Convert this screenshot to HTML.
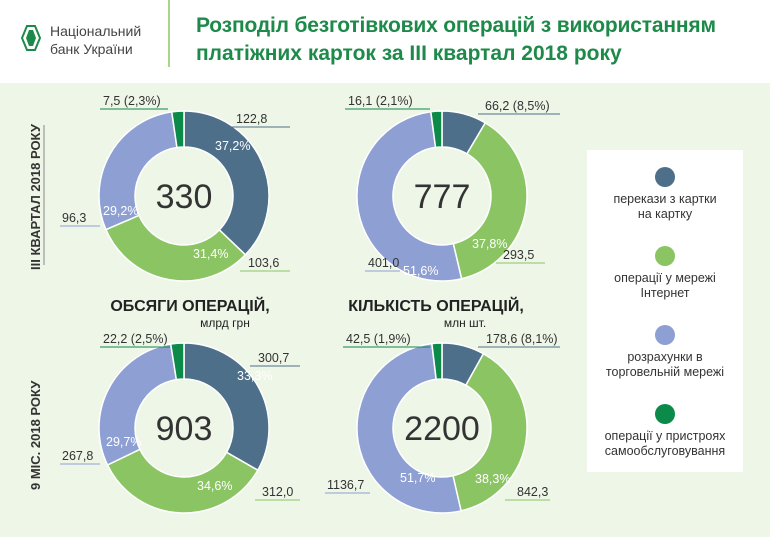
<!DOCTYPE html>
<html><head><meta charset="utf-8"><style>
body{margin:0;width:770px;height:544px;background:#fff;font-family:"Liberation Sans",sans-serif;overflow:hidden}
</style></head><body>
<svg id="s" width="770" height="544" xmlns="http://www.w3.org/2000/svg" font-family="Liberation Sans, sans-serif">
<rect x="0" y="83" width="770" height="454" fill="#eef6e7"/>
<rect x="587" y="150" width="156" height="322" fill="#fff"/>
<line x1="169" y1="0" x2="169" y2="67" stroke="#8cc563" stroke-width="1.5"/>
<path d="M27 26 L35 26 L40 38 L35 50 L27 50 L22 38 Z" fill="none" stroke="#1e8a4a" stroke-width="2"/>
<path d="M29 30 L33 30 L36 38 L33 46 L29 46 L26 38 Z" fill="#1e8a4a"/>
<text x="50" y="36" font-size="14" fill="#444">Національний</text>
<text x="50" y="54" font-size="14" fill="#444">банк України</text>
<text x="196" y="32" font-size="21" fill="#1e8a4a" font-weight="bold" textLength="520">Розподіл безготівкових операцій з використанням</text>
<text x="196" y="60" font-size="21" fill="#1e8a4a" font-weight="bold">платіжних карток за ІІІ квартал 2018 року</text>
<line x1="44" y1="125" x2="44" y2="265" stroke="#888" stroke-width="1"/>
<text transform="translate(40,270) rotate(-90)" font-size="13" font-weight="bold" fill="#333">ІІІ КВАРТАЛ 2018 РОКУ</text>
<text transform="translate(40,490) rotate(-90)" font-size="13" font-weight="bold" fill="#333">9 МІС. 2018 РОКУ</text>
<text x="190" y="311" font-size="16" font-weight="bold" fill="#222" text-anchor="middle">ОБСЯГИ ОПЕРАЦІЙ,</text>
<text x="225" y="327" font-size="12" fill="#222" text-anchor="middle">млрд грн</text>
<text x="436" y="311" font-size="16" font-weight="bold" fill="#222" text-anchor="middle">КІЛЬКІСТЬ ОПЕРАЦІЙ,</text>
<text x="465" y="327" font-size="12" fill="#222" text-anchor="middle">млн шт.</text>
<g id="d"></g>
<g font-size="12.5" fill="#333" text-anchor="middle">
<circle cx="665" cy="177" r="10" fill="#4e6f8a"/><text x="665" y="203">перекази з картки</text><text x="665" y="218">на картку</text>
<circle cx="665" cy="256" r="10" fill="#8bc463"/><text x="665" y="282">операції у мережі</text><text x="665" y="297">Інтернет</text>
<circle cx="665" cy="335" r="10" fill="#8e9fd3"/><text x="665" y="361">розрахунки в</text><text x="665" y="376">торговельній мережі</text>
<circle cx="665" cy="414" r="10" fill="#0c8a4a"/><text x="665" y="440">операції у пристроях</text><text x="665" y="455">самообслуговування</text>
</g>
<g font-size="12.5" fill="#333">
<text x="103" y="105">7,5 (2,3%)</text><line x1="100" y1="109" x2="168" y2="109" stroke="#0c8a4a"/>
<text x="236" y="123">122,8</text><line x1="228" y1="127" x2="290" y2="127" stroke="#4e6f8a"/>
<text x="248" y="267">103,6</text><line x1="240" y1="271" x2="290" y2="271" stroke="#8bc463"/>
<text x="62" y="222">96,3</text><line x1="60" y1="226" x2="100" y2="226" stroke="#8e9fd3"/>
<text x="348" y="105">16,1 (2,1%)</text><line x1="345" y1="109" x2="430" y2="109" stroke="#0c8a4a"/>
<text x="485" y="110">66,2 (8,5%)</text><line x1="478" y1="114" x2="560" y2="114" stroke="#4e6f8a"/>
<text x="503" y="259">293,5</text><line x1="496" y1="263" x2="545" y2="263" stroke="#8bc463"/>
<text x="368" y="267">401,0</text><line x1="365" y1="271" x2="400" y2="271" stroke="#8e9fd3"/>
<text x="103" y="343">22,2 (2,5%)</text><line x1="100" y1="347" x2="170" y2="347" stroke="#0c8a4a"/>
<text x="258" y="362">300,7</text><line x1="250" y1="366" x2="300" y2="366" stroke="#4e6f8a"/>
<text x="262" y="496">312,0</text><line x1="255" y1="500" x2="300" y2="500" stroke="#8bc463"/>
<text x="62" y="460">267,8</text><line x1="60" y1="464" x2="100" y2="464" stroke="#8e9fd3"/>
<text x="346" y="343">42,5 (1,9%)</text><line x1="343" y1="347" x2="430" y2="347" stroke="#0c8a4a"/>
<text x="486" y="343">178,6 (8,1%)</text><line x1="478" y1="347" x2="560" y2="347" stroke="#4e6f8a"/>
<text x="517" y="496">842,3</text><line x1="505" y1="500" x2="550" y2="500" stroke="#8bc463"/>
<text x="327" y="489">1136,7</text><line x1="325" y1="493" x2="370" y2="493" stroke="#8e9fd3"/>
</g>
<g font-size="12.5" fill="#fff">
<text x="215" y="150">37,2%</text><text x="193" y="258">31,4%</text><text x="103" y="215">29,2%</text>
<text x="472" y="248">37,8%</text><text x="403" y="275">51,6%</text>
<text x="237" y="380">33,3%</text><text x="197" y="490">34,6%</text><text x="106" y="446">29,7%</text>
<text x="475" y="483">38,3%</text><text x="400" y="482">51,7%</text>
</g>
</svg>
<script>
var C=["#4e6f8a","#8bc463","#8e9fd3","#0c8a4a"];
var D=[[184,196,[37.2,31.4,29.2,2.3],"330"],[442,196,[8.5,37.8,51.6,2.1],"777"],[184,428,[33.3,34.6,29.7,2.5],"903"],[442,428,[8.1,38.3,51.7,1.9],"2200"]];
var g=document.getElementById("d"),h="";
var R=85,r=49;
function pt(cx,cy,rad,a){return [(cx+rad*Math.sin(a)).toFixed(2),(cy-rad*Math.cos(a)).toFixed(2)];}
D.forEach(function(d){var cx=d[0],cy=d[1],v=d[2],t=v.reduce(function(a,b){return a+b},0),a=0;
v.forEach(function(x,i){var b=a+x/t*2*Math.PI,l=(b-a)>Math.PI?1:0;
var p1=pt(cx,cy,R,a),p2=pt(cx,cy,R,b),p3=pt(cx,cy,r,b),p4=pt(cx,cy,r,a);
h+='<path d="M'+p1+' A'+R+' '+R+' 0 '+l+' 1 '+p2+' L'+p3+' A'+r+' '+r+' 0 '+l+' 0 '+p4+' Z" fill="'+C[i]+'" stroke="#fff" stroke-width="1.5"/>';a=b;});
h+='<text x="'+cx+'" y="'+(cy+12)+'" font-size="34" fill="#333" text-anchor="middle">'+d[3]+'</text>';});
g.innerHTML=h;
</script>
</body></html>
